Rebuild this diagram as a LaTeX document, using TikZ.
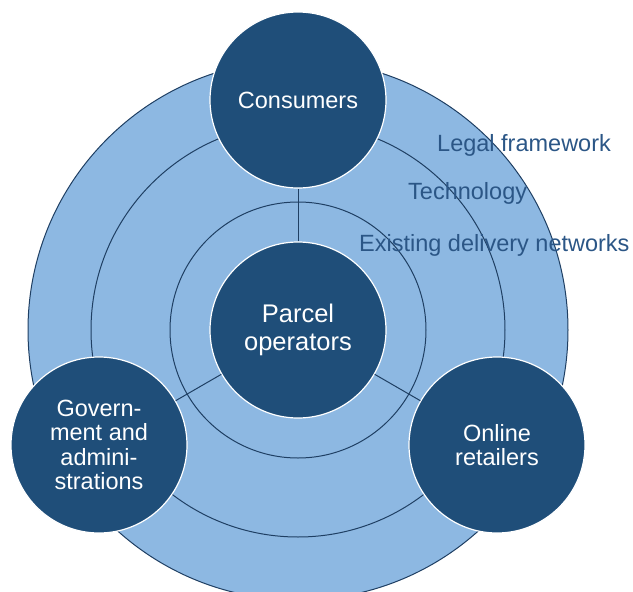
\documentclass[tikz,border=0pt]{standalone}
\usepackage{fontspec}
\setmainfont{Liberation Sans}
\usepackage{xcolor}
\usetikzlibrary{calc}

\definecolor{ringfill}{HTML}{8DB8E2}
\definecolor{actorfill}{HTML}{1F4E79}
\definecolor{ringline}{HTML}{1F3F63}
\definecolor{factortext}{HTML}{2B5686}

\tikzset{
  actor/.style={circle, fill=actorfill, draw=white, line width=1.2pt,
    minimum size=176pt, inner sep=0pt, align=center, text=white,
    font=\fontsize{23.5}{24.4}\selectfont},
  factor/.style={anchor=base west, inner sep=0pt, text=factortext,
    font=\fontsize{23.5}{24}\selectfont},
  ring/.style={draw=ringline, line width=1pt},
}

\begin{document}
\begin{tikzpicture}[x=1pt,y=-1pt]
 	\useasboundingbox (0,0) rectangle (633,592);
 	\coordinate (centre) at (298,330);
 	% outer disc and the two rings
 	\filldraw[ring,fill=ringfill] (centre) circle[radius=270pt];
 	\draw[ring] (centre) circle[radius=207pt];
 	\draw[ring] (centre) circle[radius=128pt];
 	% actors
 	\node[actor,font=\fontsize{25.5}{28.4}\selectfont] (parcel) at (centre) {Parcel\\operators};
 	\node[actor] (consumers) at (298,100) {Consumers};
 	\node[actor] (government) at (99,445) {Govern-\\ment and\\admini-\\strations};
 	\node[actor] (retailers) at (497,445) {Online\\retailers};
 	\draw[ring] (parcel) -- (consumers);
 	\draw[ring] (parcel) -- (government);
 	\draw[ring] (parcel) -- (retailers);
 	% framework labels
 	\node[factor] (legal) at (437,151) {Legal framework};
 	\node[factor] (technology) at (408,199) {Technology};
 	\node[factor] (networks) at (359,251) {Existing delivery networks};
\end{tikzpicture}
\end{document}
